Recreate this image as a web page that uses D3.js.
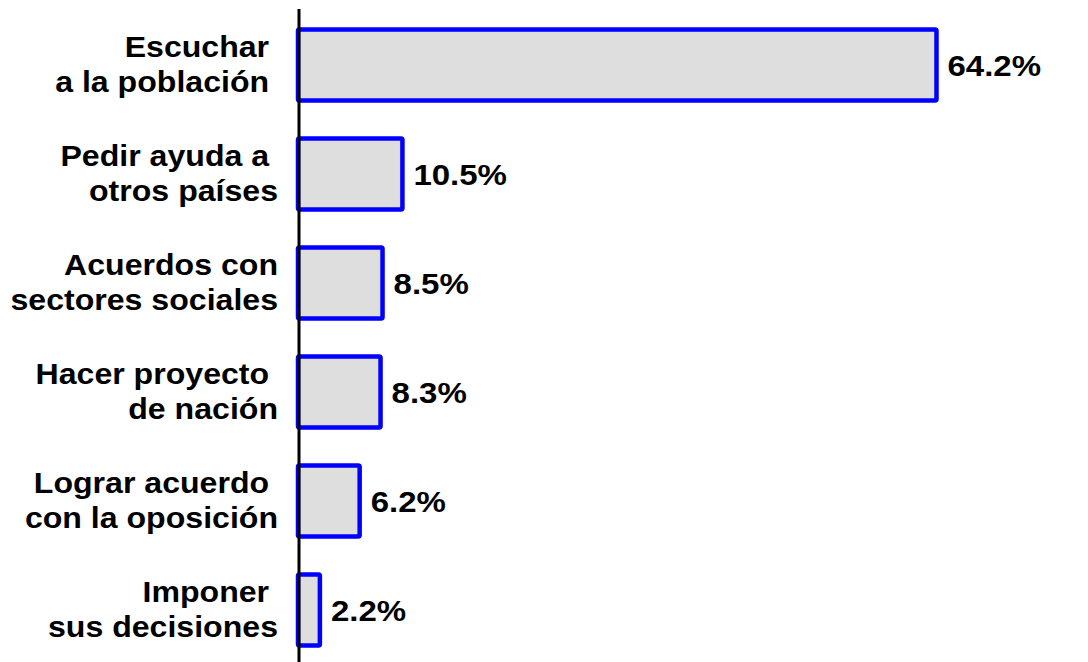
<!DOCTYPE html>
<meta charset="utf-8">
<head>
    <title>Bar chart</title>
    <style>
        body { margin: 0; background: #fff; }
        .cat, .val {
            font-family: "Liberation Sans", Arial, sans-serif;
            font-weight: bold;
            font-size: 30px;
            fill: #000;
        }
    </style>
</head>
<script src="https://d3js.org/d3.v7.min.js"></script>
<svg id="chart" width="1088" height="662"></svg>
<script>
    // data
    const categories = ["Escuchar", "Pedir ayuda", "Acuerdos", "Proyecto", "Lograr acuerdo", "Imponer"]
    const labelLines = [
        ["Escuchar\u00a0", "a la población\u00a0"],
        ["Pedir ayuda a\u00a0", "otros países"],
        ["Acuerdos con", "sectores sociales"],
        ["Hacer proyecto\u00a0", "de nación"],
        ["Lograr acuerdo\u00a0", "con la oposición"],
        ["Imponer\u00a0", "sus decisiones"]
    ]
    const values = [64.2, 10.5, 8.5, 8.3, 6.2, 2.2]
    const valueLabels = ["64.2%", "10.5%", "8.5%", "8.3%", "6.2%", "2.2%"]

    const svg = d3.select("#chart")
    const stretch = 1.07

    const x = d3.scaleLinear()
        .domain([0, 64.2])
        .range([298, 936.5])

    const y = d3.scaleBand()
        .domain(categories)
        .range([10.5, 664.5])
        .paddingInner(38 / 109)
        .paddingOuter(19 / 109)

    // bars
    svg.append("g")
        .selectAll("rect")
        .data(values)
        .join("rect")
        .attr("x", x(0))
        .attr("y", (d, i) => y(categories[i]))
        .attr("width", d => x(d) - x(0))
        .attr("height", y.bandwidth())
        .attr("rx", 1.5)
        .attr("fill", "#dedede")
        .attr("stroke", "#0000ff")
        .attr("stroke-width", 4.5)

    // vertical axis line
    svg.append("line")
        .attr("x1", 299).attr("x2", 299)
        .attr("y1", 9).attr("y2", 662)
        .attr("stroke", "#000")
        .attr("stroke-width", 3)

    // value labels
    svg.append("g")
        .selectAll("text")
        .data(values)
        .join("text")
        .attr("class", "val")
        .attr("transform", (d, i) => "translate(" + (x(d) + 11) + "," + (y(categories[i]) + y.bandwidth() / 2 + 11) + ") scale(1.1,1)")
        .text((d, i) => valueLabels[i])

    // category labels, two lines each
    const cat = svg.append("g")
        .selectAll("g")
        .data(labelLines)
        .join("g")
        .attr("transform", (d, i) => "translate(278," + (y(categories[i]) + y.bandwidth() / 2) + ")")

    cat.selectAll("text")
        .data(d => d)
        .join("text")
        .attr("class", "cat")
        .attr("text-anchor", "end")
        .attr("transform", (d, j) => "translate(0," + (j === 0 ? -8 : 27) + ") scale(" + stretch + ",1)")
        .text(d => d)
</script>
